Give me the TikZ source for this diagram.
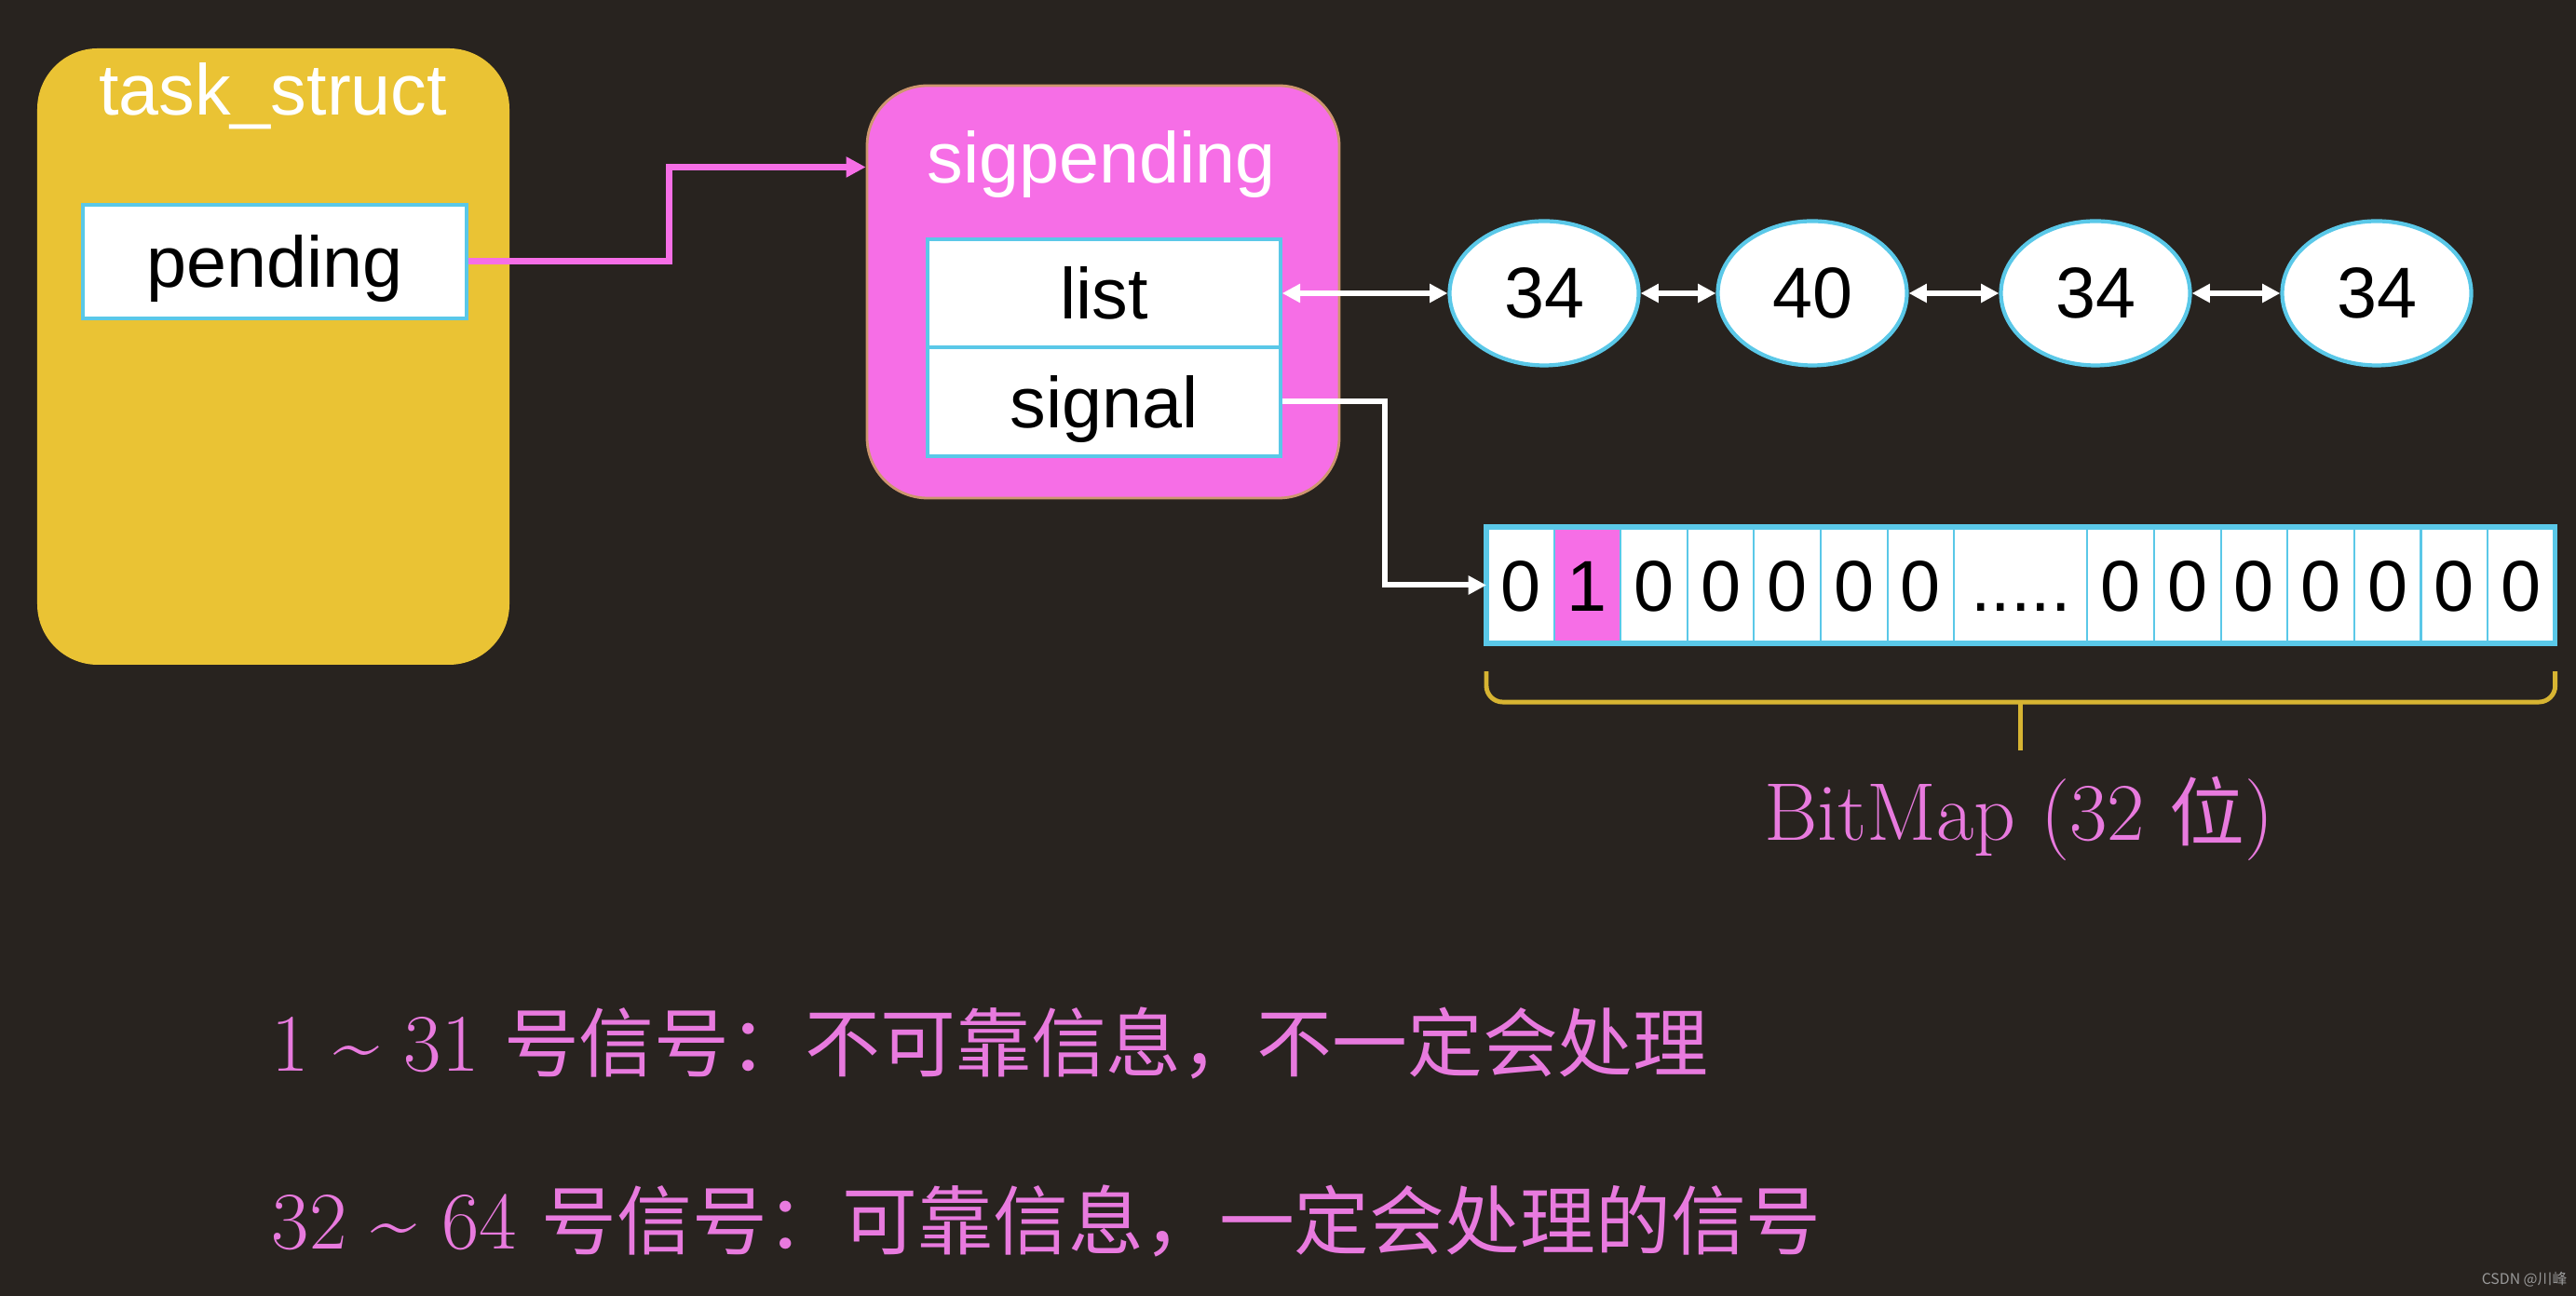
\documentclass[tikz,border=0pt]{standalone}
\usepackage{fontspec}
\setsansfont{Liberation Sans}
\newfontfamily\cjk{Noto Sans CJK SC}
\usepackage{tikz}
\usetikzlibrary{arrows.meta,shapes.geometric}

\definecolor{bg}{RGB}{40,35,31}
\definecolor{taskyellow}{RGB}{234,195,52}
\definecolor{sigpink}{RGB}{246,110,230}
\definecolor{sigedge}{RGB}{205,150,110}
\definecolor{textpink}{RGB}{232,122,222}
\definecolor{cellblue}{RGB}{90,200,232}
\definecolor{bracegold}{RGB}{215,180,50}

\tikzset{
  box/.style={rounded corners=0.65cm, inner sep=0pt},
  title/.style={text=white, inner sep=0pt, font=\sffamily\fontsize{22}{26}\selectfont},
  field/.style={draw=cellblue, line width=1pt, fill=white, inner sep=0pt, text height=15.8pt, text depth=0pt, font=\sffamily\fontsize{22}{26}\selectfont},
  elem/.style={ellipse, draw=cellblue, line width=1.2pt, fill=white, inner sep=0pt, minimum width=2.03cm, minimum height=1.55cm, font=\sffamily\fontsize{22}{26}\selectfont},
  bit/.style={draw=cellblue, line width=0.6pt, fill=white, inner sep=0pt, text height=15.8pt, text depth=0pt, minimum width=0.716cm, minimum height=1.23cm, font=\sffamily\fontsize{22}{26}\selectfont},
  link/.style={white, line width=1.7pt},
  ptr/.style={sigpink, line width=2pt, -{Triangle[length=6pt,width=6pt]}},
  dbl/.style={{Triangle[length=5.5pt,width=5.5pt]}-{Triangle[length=5.5pt,width=5.5pt]}},
  bracket/.style={bracegold, line width=1.4pt},
  note/.style={anchor=base west, inner sep=0pt, text=textpink, font=\fontsize{25}{30}\selectfont}
}

\begin{document}
\begin{tikzpicture}
\path[use as bounding box, fill=bg] (0,0) rectangle (27.66,13.92);

% task_struct
\node[box, fill=taskyellow, minimum width=5.07cm, minimum height=6.62cm] (task) at (2.935,10.09) {};
\node[title, anchor=base] (tasklbl) at (2.93,12.68) {task\_struct};
\node[field, minimum width=4.12cm, minimum height=1.22cm] (pending) at (2.95,11.11) {pending};

% sigpending
\node[box, fill=sigpink, draw=sigedge, line width=0.8pt, minimum width=5.07cm, minimum height=4.43cm] (sig) at (11.845,10.785) {};
\node[title, anchor=base] (siglbl) at (11.83,11.95) {sigpending};
\node[field, minimum width=3.79cm, minimum height=1.16cm] (list) at (11.855,10.77) {list};
\node[field, minimum width=3.79cm, minimum height=1.17cm] (signal) at (11.855,9.605) {signal};

\draw[ptr] (pending.east) -- ++(2.16,0) |- ([yshift=1.34cm]sig.west);

% queue
\foreach \n/\v/\x in {e1/34/16.58, e2/40/19.46, e3/34/22.50, e4/34/25.52}
  \node[elem] (\n) at (\x,10.77) {\v};
\draw[link, dbl] (list.east) -- (e1.west);
\foreach \a/\b in {e1/e2, e2/e3, e3/e4}
  \draw[link, dbl] (\a.east) -- (\b.west);

% bitmap
\foreach \i in {1,3,4,5,6,7}
  \node[bit] (b\i) at ({15.97+(\i-0.5)*0.716},7.635) {0};
\node[bit, fill=sigpink] (b2) at ({15.97+1.5*0.716},7.635) {1};
\node[bit, minimum width=1.432cm] (b8) at ({15.97+8*0.716},7.635) {.....};
\foreach \i in {9,...,15}
  \node[bit] (b\i) at ({15.97+(\i+0.5)*0.716},7.635) {0};
\draw[cellblue, line width=1.5pt] (b1.north west) rectangle (b15.south east);

\draw[link, -{Triangle[length=5.5pt,width=5.5pt]}] (signal.east) -- ++(1.10,0) |- (b1.west);

\draw[bracket, rounded corners=5pt] ([yshift=-0.3cm]b1.south west) |- ([yshift=-0.63cm]b8.south) -| ([yshift=-0.3cm]b15.south east);
\draw[bracket] ([yshift=-0.63cm]b8.south) -- ++(0,-0.52);
\node[anchor=base, inner sep=0pt, text=textpink, font=\fontsize{25}{30}\selectfont] (bmlbl) at (21.68,4.89) {BitMap (32 {\cjk\fontsize{23}{28}\selectfont 位})};

% notes
\node[note] (note1) at (2.91,2.41) {1 \textasciitilde{} 31 {\cjk\fontsize{23}{28}\selectfont 号信号：不可靠信息，不一定会处理}};
\node[note] (note2) at (2.91,0.50) {32 \textasciitilde{} 64 {\cjk\fontsize{23}{28}\selectfont 号信号：可靠信息，一定会处理的信号}};

\node[anchor=base east, inner sep=0pt, text=gray!80, font=\cjk\fontsize{4.5}{5}\selectfont] (mark) at (27.57,0.12) {CSDN @川峰};
\end{tikzpicture}
\end{document}
